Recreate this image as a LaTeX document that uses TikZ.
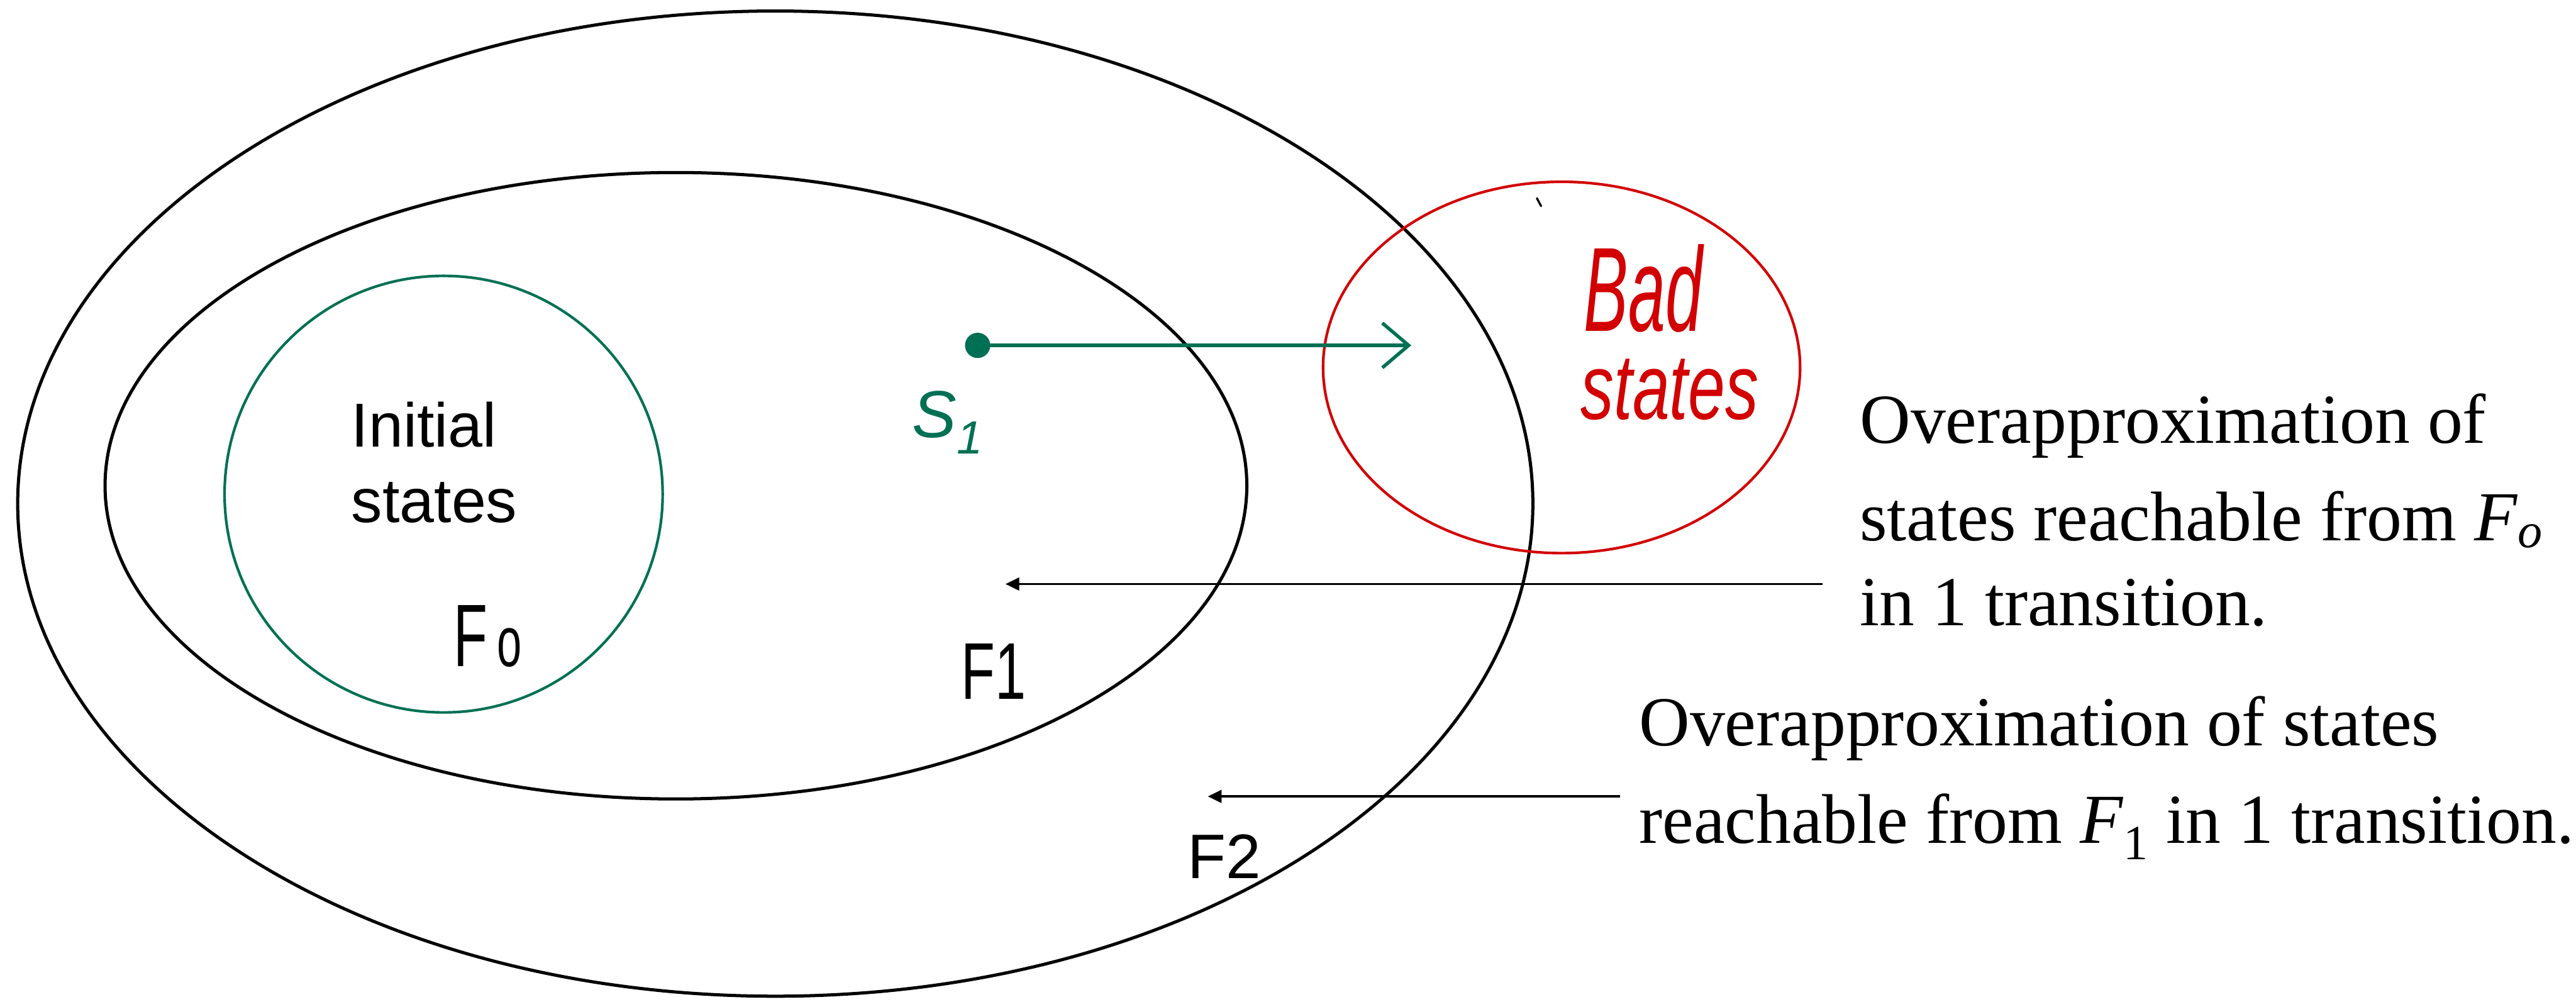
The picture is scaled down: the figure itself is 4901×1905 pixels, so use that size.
\documentclass[tikz,border=0pt]{standalone}
\usepackage{fontspec}
\setmainfont{Liberation Serif}
\newfontfamily\helv{Liberation Sans}
\newfontfamily\hand{Liberation Sans}
\usetikzlibrary{arrows.meta,shapes.geometric}
\definecolor{sgreen}{RGB}{0,112,84}
\definecolor{sred}{RGB}{210,0,0}
\begin{document}
\begin{tikzpicture}[x=0.01cm,y=-0.01cm,
  region/.style={draw, ellipse, inner sep=0pt, line width=0.06cm},
  note/.style={inner sep=0pt, anchor=base west, font=\fontsize{38}{46}\selectfont},
  sanslbl/.style={inner sep=0pt, anchor=base west, font=\helv\fontsize{33.6}{40}\selectfont},
  handlbl/.style={inner sep=0pt, anchor=base west},
  pointer/.style={-{Triangle[length=0.26cm,width=0.24cm]}, line width=0.045cm},
]
\useasboundingbox (0,0) rectangle (4901,1905);
% regions
\node[region, minimum width=28.81cm, minimum height=18.73cm] (F2) at (1475,958) {};
\node[region, minimum width=21.71cm, minimum height=11.91cm] (F1) at (1286,924) {};
\node[region, draw=sgreen, line width=0.05cm, minimum width=8.33cm, minimum height=8.30cm] (F0) at (844,940) {};
\node[region, draw=sred, line width=0.05cm, minimum width=9.07cm, minimum height=7.06cm] (bad) at (2971,699) {};
% initial states
\node[sanslbl] (init1) at (668,850) {Initial};
\node[sanslbl] (init2) at (668,994) {states};
% handwritten labels
\node[handlbl, font=\hand\fontsize{30}{30}\selectfont] (lF0) at (863,1268) {\scalebox{1}[1.6]{F\,{\fontsize{24}{24}\selectfont o}}};
\node[handlbl, font=\hand\fontsize{30}{30}\selectfont] (lF1) at (1828,1330) {\scalebox{1}[1.45]{F1}};
\node[handlbl, font=\hand\fontsize{34}{34}\selectfont] (lF2) at (2259,1671) {F2};
\node[handlbl, text=sgreen, font=\hand\itshape\fontsize{36}{36}\selectfont] (ls1) at (1735,832) {S\textsubscript{1}};
\node[handlbl, text=sred, font=\hand\itshape\fontsize{36}{36}\selectfont] (lbad1) at (3013,630) {\scalebox{1}[1.8]{Bad}};
\node[handlbl, text=sred, font=\hand\itshape\fontsize{36}{36}\selectfont] (lbad2) at (3007,798) {\scalebox{1}[1.4]{states}};
% stray pen mark
\draw[line width=0.04cm, line cap=round] (2924,377) -- (2932,392);
% state s1 and its transition
\node[circle, fill=sgreen, inner sep=0pt, minimum size=0.48cm] (s1) at (1860,657) {};
\coordinate (hit) at (2685,657);
\draw[sgreen, line width=0.065cm, line cap=round, -{Straight Barb[length=0.5cm,width=0.85cm]}] (s1) -- (hit);
% notes
\node[note] (t1a) at (3538,843) {Overapproximation of};
\node[note] (t1b) at (3538,1028) {states reachable from \textit{F}\textsubscript{\textit{o}}};
\node[note] (t1c) at (3538,1190) {in 1 transition.};
\node[note] (t2a) at (3118,1419) {Overapproximation of states};
\node[note] (t2b) at (3118,1604) {reachable from \textit{F}\textsubscript{1} in 1 transition.};
% pointers
\coordinate (a1tail) at (3468,1111);
\coordinate (a1tip) at (1913,1111);
\coordinate (a2tail) at (3082,1515);
\coordinate (a2tip) at (2298,1515);
\draw[pointer] (a1tail) -- (a1tip);
\draw[pointer] (a2tail) -- (a2tip);
\end{tikzpicture}
\end{document}
